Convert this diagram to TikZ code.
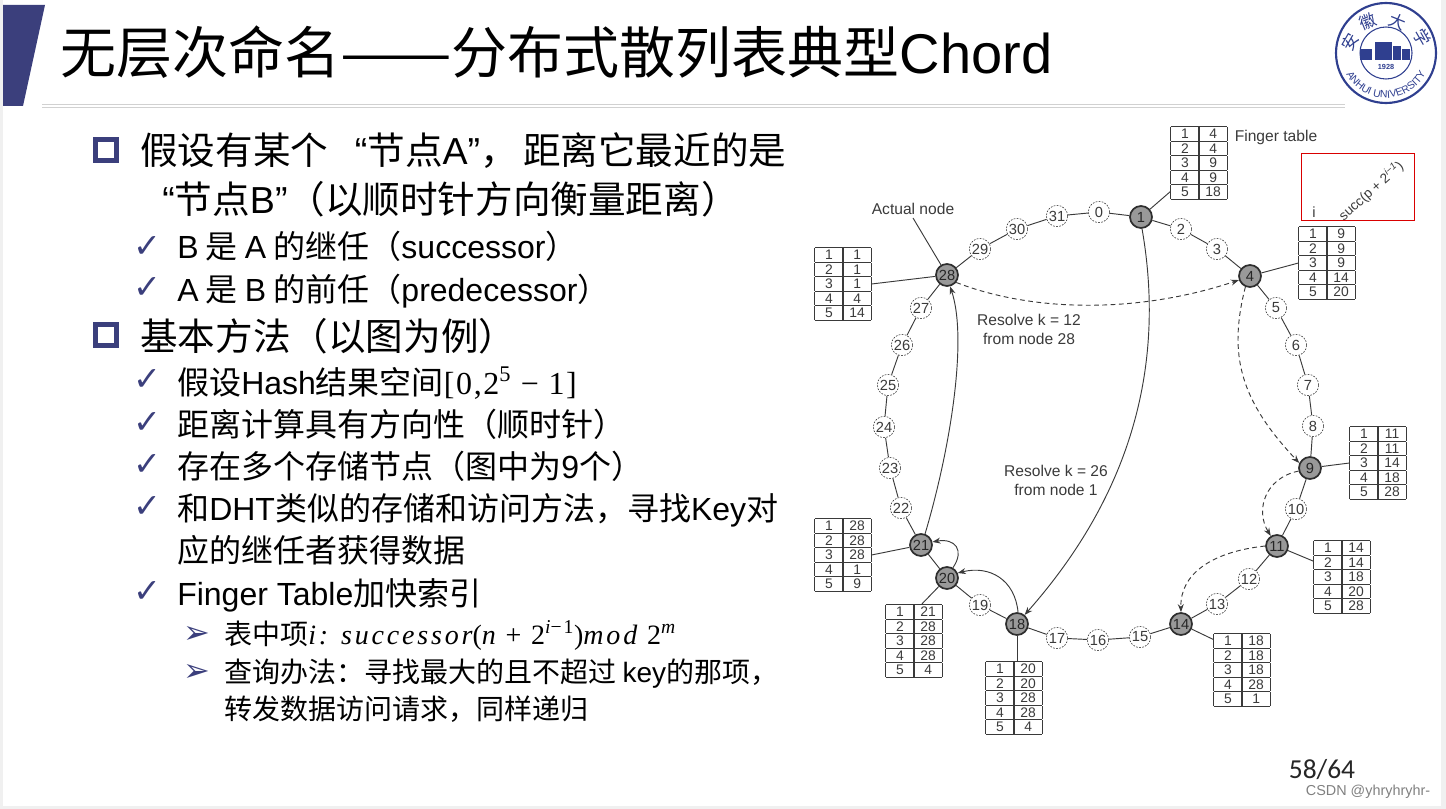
\documentclass[tikz,border=0pt]{standalone}
\usepackage{fontspec}
\usetikzlibrary{arrows.meta,decorations.text}
\setmainfont{Noto Sans CJK SC}
\newfontfamily\la{Liberation Sans}
\newfontfamily\djfont{DejaVu Sans}
\newfontfamily\car{Carlito}
\newfontfamily\mathish[LetterSpace=5]{Liberation Serif}
\newfontfamily\mathwide[LetterSpace=10]{Liberation Serif}
\definecolor{navy}{HTML}{3B3F7C}
\definecolor{seal}{HTML}{2F3F8F}
\definecolor{ink}{HTML}{3A3A3A}
\newcommand\fs[1]{\fontsize{#1}{#1}\selectfont}
\newcommand\cc[1]{\makebox[21.2pt]{\rule[-1.5pt]{0pt}{10.1pt}#1}}
\newcommand\qopen{{\la “}}
\newcommand\qclose{{\la ”}}
\newcommand\fingertab[8]{%
  \node[tabnode] (#1) at (#2,#3) {\renewcommand\arraystretch{0}\setlength\tabcolsep{0pt}\setlength\arrayrulewidth{0.8pt}%
  \begin{tabular}{|c|c|}\hline
  \cc{1}&\cc{#4}\\\hline \cc{2}&\cc{#5}\\\hline \cc{3}&\cc{#6}\\\hline \cc{4}&\cc{#7}\\\hline \cc{5}&\cc{#8}\\\hline
  \end{tabular}};}
\tikzset{
  lone/.style={anchor=base west,font=\fs{28.2},inner sep=0pt},
  ltwo/.style={anchor=base west,font=\fs{24},inner sep=0pt},
  lthree/.style={anchor=base west,font=\fs{21},inner sep=0pt},
  sqbullet/.style={draw=navy,line width=3.6pt,minimum size=15.8pt,inner sep=0pt},
  checkb/.style={font=\djfont\fs{25},text=navy,inner sep=0pt},
  arrowb/.style={font=\djfont\fs{24},text=navy,inner sep=0pt},
  realnode/.style={circle,draw=ink!80!black,line width=1.3pt,fill=black!40,minimum size=16.5pt,inner sep=0pt,font=\la\fs{11},text=black!85},
  vnode/.style={circle,draw=ink,line width=.45pt,dash pattern=on 1.3pt off 1pt,fill=white,minimum size=16pt,inner sep=0pt,font=\la\fs{11},text=ink},
  tabnode/.style={inner sep=0pt,font=\la\fs{10.4},text=ink,draw=none,color=ink},
  ringline/.style={draw=ink,line width=.7pt},
  hop/.style={draw=ink,line width=.7pt,-{Stealth[length=6pt,width=4.5pt]}},
  dhop/.style={hop,dash pattern=on 3.6pt off 2.6pt},
  dlabel/.style={font=\la\fs{11.7},text=ink,align=center,inner sep=0pt},
}
\begin{document}
\begin{tikzpicture}[x=0.75pt,y=-0.75pt]
\useasboundingbox (0,0) rectangle (1446,809);
% page edges
\fill[black!6] (0,0) rectangle (3,809);
\fill[black!6] (1441,0) rectangle (1446,809);
\fill[black!6] (0,806) rectangle (1446,809);
% title bar
\fill[navy] (3,5) -- (45,5) -- (23,106) -- (3,106) -- cycle;
\draw[black!18,line width=.8pt] (42,104.5) -- (1345,104.5);
\draw[black!18,line width=.8pt] (42,107.5) -- (1345,107.5);
\node[anchor=base west,font=\fs{42},inner sep=0pt] (title) at (60,74) {无层次命名\scalebox{1.19}[1]{——}分布式散列表典型{\la Chord}};
% seal
\draw[seal,line width=1.6pt] (1386,53) circle [radius=50];
\draw[seal,line width=.8pt] (1386,53) circle [radius=26];
\fill[seal] (1360,49) rectangle (1372,60);
\fill[seal] (1375,42) rectangle (1392,60);
\fill[seal] (1393,46) rectangle (1401,60);
\fill[seal] (1402,49) rectangle (1410,60);
\node[font=\la\bfseries\fs{5.5},text=seal,inner sep=0pt] (year) at (1386,67) {1928};
\node[font=\fs{12.5},text=seal,rotate=60,inner sep=0pt] (sealA) at (1350,42) {安};
\node[font=\fs{12.5},text=seal,rotate=22,inner sep=0pt] (sealB) at (1368,22) {徽};
\node[font=\fs{12.5},text=seal,rotate=-22,inner sep=0pt] (sealC) at (1398,22) {大};
\node[font=\fs{12.5},text=seal,rotate=-60,inner sep=0pt] (sealD) at (1422,38) {学};
\path[decorate,decoration={text along path,text align=center,text color=seal,
  text={|\la\fs{7.8}|ANHUI UNIVERSITY}}]
  (1386,53) ++(170:45) arc[start angle=170,end angle=10,radius=45];
% left text
\node[sqbullet] (b1) at (106,150) {};
\node[lone] (t1) at (140,165) {假设有某个\hspace{20pt}\qopen 节点{\la A}\qclose，\hspace{4pt}距离它最近的是};
\node[lone] (t2) at (162,214) {\qopen 节点{\la B}\qclose（以顺时针方向衡量距离）};
\node[checkb] (c1) at (147,247) {✓};
\node[ltwo] (t3) at (177,259) {{\la B} 是 {\la A} 的继任（{\la successor}）};
\node[checkb] (c2) at (147,288) {✓};
\node[ltwo] (t4) at (177,301) {{\la A} 是 {\la B} 的前任（{\la predecessor}）};
\node[sqbullet] (b2) at (106,335) {};
\node[lone] (t5) at (140,350) {基本方法（以图为例）};
\node[checkb] (c3) at (147,380) {✓};
\node[ltwo] (t6) at (177,394) {假设{\la Hash}结果空间{\mathish [0,2\textsuperscript{5} − 1]}};
\node[checkb] (c4) at (147,423) {✓};
\node[ltwo] (t7) at (177,436) {距离计算具有方向性（顺时针）};
\node[checkb] (c5) at (147,465) {✓};
\node[ltwo] (t8) at (177,478) {存在多个存储节点（图中为{\la 9}个）};
\node[checkb] (c6) at (147,507) {✓};
\node[ltwo] (t9) at (177,520) {和{\la DHT}类似的存储和访问方法，寻找{\la Key}对};
\node[ltwo] (t10) at (177,562) {应的继任者获得数据};
\node[checkb] (c7) at (147,592) {✓};
\node[ltwo] (t11) at (177,605) {{\la Finger Table}加快索引};
\node[arrowb] (a1) at (197,635) {➢};
\node[lthree] (t12) at (224,644) {表中项{\mathwide\itshape i: successor\upshape (\itshape n \upshape + 2\textsuperscript{\itshape i\upshape −1})\itshape mod \upshape 2\textsuperscript{\itshape m}}};
\node[arrowb] (a2) at (197,673) {➢};
\node[lthree] (t13) at (224,682) {查询办法：寻找最大的且不超过 {\la key}的那项，};
\node[lthree] (t14) at (224,719) {转发数据访问请求，同样递归};
% real nodes
\foreach \n/\x/\y in {1/1141/217,4/1250/276,9/1310/468,11/1277/546,14/1181/624,18/1017/624,20/947/578,21/921/545,28/947/275}
  \node[realnode] (n\n) at (\x,\y) {\n};
% virtual nodes
\foreach \n/\x/\y in {0/1099/212,31/1057/216,30/1017/229,29/980/249,27/921/308,26/902/345,25/888/385,24/884/427,23/890/468,22/901/508,19/980/605,17/1057/638,16/1098/640,15/1140/637,13/1217/604,12/1249/579,10/1296/509,8/1313/426,7/1308/385,6/1296/345,5/1276/308,3/1217/249,2/1181/229}
  \node[vnode] (n\n) at (\x,\y) {\n};
% ring
\foreach \a/\b in {0/1,1/2,2/3,3/4,4/5,5/6,6/7,7/8,8/9,9/10,10/11,11/12,12/13,13/14,14/15,15/16,16/17,17/18,18/19,19/20,20/21,21/22,22/23,23/24,24/25,25/26,26/27,27/28,28/29,29/30,30/31,31/0}
  \draw[ringline] (n\a) -- (n\b);
% finger tables
\fingertab{t01}{1199}{163}{4}{4}{9}{9}{18}
\fingertab{t04}{1327}{263}{9}{9}{9}{14}{20}
\fingertab{t09}{1378}{463}{11}{11}{14}{18}{28}
\fingertab{t011}{1342}{577}{14}{14}{18}{20}{28}
\fingertab{t014}{1242}{670}{18}{18}{18}{28}{1}
\fingertab{t018}{1014}{698}{20}{20}{28}{28}{4}
\fingertab{t020}{914}{641}{21}{28}{28}{28}{4}
\fingertab{t021}{843}{555}{28}{28}{28}{1}{9}
\fingertab{t028}{843}{284}{1}{1}{1}{4}{14}
\draw[ringline] (n1) -- ([yshift=6.5pt]t01.south west);
\draw[ringline] (n4) -- (t04.west);
\draw[ringline] (n9) -- (t09.west);
\draw[ringline] (n11) -- ([yshift=-16pt]t011.north west);
\draw[ringline] (n14) -- ([yshift=-5pt]t014.north west);
\draw[ringline] (n18) -- (n18|-t018.north);
\draw[ringline] (n20) -- ([xshift=6pt]t020.north);
\draw[ringline] (n21) -- (t021.east);
\draw[ringline] (n28) -- (t028.east);
% labels
\node[dlabel] (actual) at (913,209) {Actual node};
\draw[ringline] (actual.south) ++(0,3) -- (n28);
\node[dlabel] (ftlabel) at (1276,137) {Finger table};
\node[dlabel] (res12) at (1029,329.5) {Resolve k = 12\\[2.6pt]from node 28};
\node[dlabel] (res26) at (1056,480.5) {Resolve k = 26\\[2.6pt]from node 1};
% red box
\node[draw=red!85!black,line width=.8pt,minimum width=85pt,minimum height=50.5pt,inner sep=0pt] (redbox) at (1358,187) {};
\node[font=\la\fs{11},text=ink,inner sep=0pt] (ilabel) at (1314,212) {i};
\node[font=\la\fs{10.2},text=ink,rotate=42,inner sep=0pt] (succlabel) at (1371,191) {succ(p + 2\textsuperscript{\itshape i−1})};
% lookup arrows
\draw[hop] (n1.-85) .. controls (1165,360) and (1135,490) .. (n18.50);
\draw[hop] (n21.70) .. controls (950,450) and (968,340) .. (n28.-75);
\draw[hop] (n18.85) .. controls (1015,580) and (990,565) .. (n20.25);
\draw[hop] (n20.60) .. controls (965,550) and (955,538) .. (n21.15);
\draw[dhop] (n28.-39) .. controls (1035,313) and (1140,313) .. (n4.200);
\draw[dhop] (n4.-113) .. controls (1228,355) and (1240,400) .. (n9.155);
\draw[dhop] (n9.195) .. controls (1265,478) and (1255,510) .. (n11.122);
\draw[dhop] (n11.180) .. controls (1210,552) and (1180,575) .. (n14.90);
% page number and watermark
\node[font=\car\fs{20.6},inner sep=0pt,text=black!85] (pageno) at (1322,770) {58/64};
\node[font=\la\fs{10.8},inner sep=0pt,text=black!50] (mark) at (1368,792) {CSDN @yhryhryhr-};
\end{tikzpicture}
\end{document}
